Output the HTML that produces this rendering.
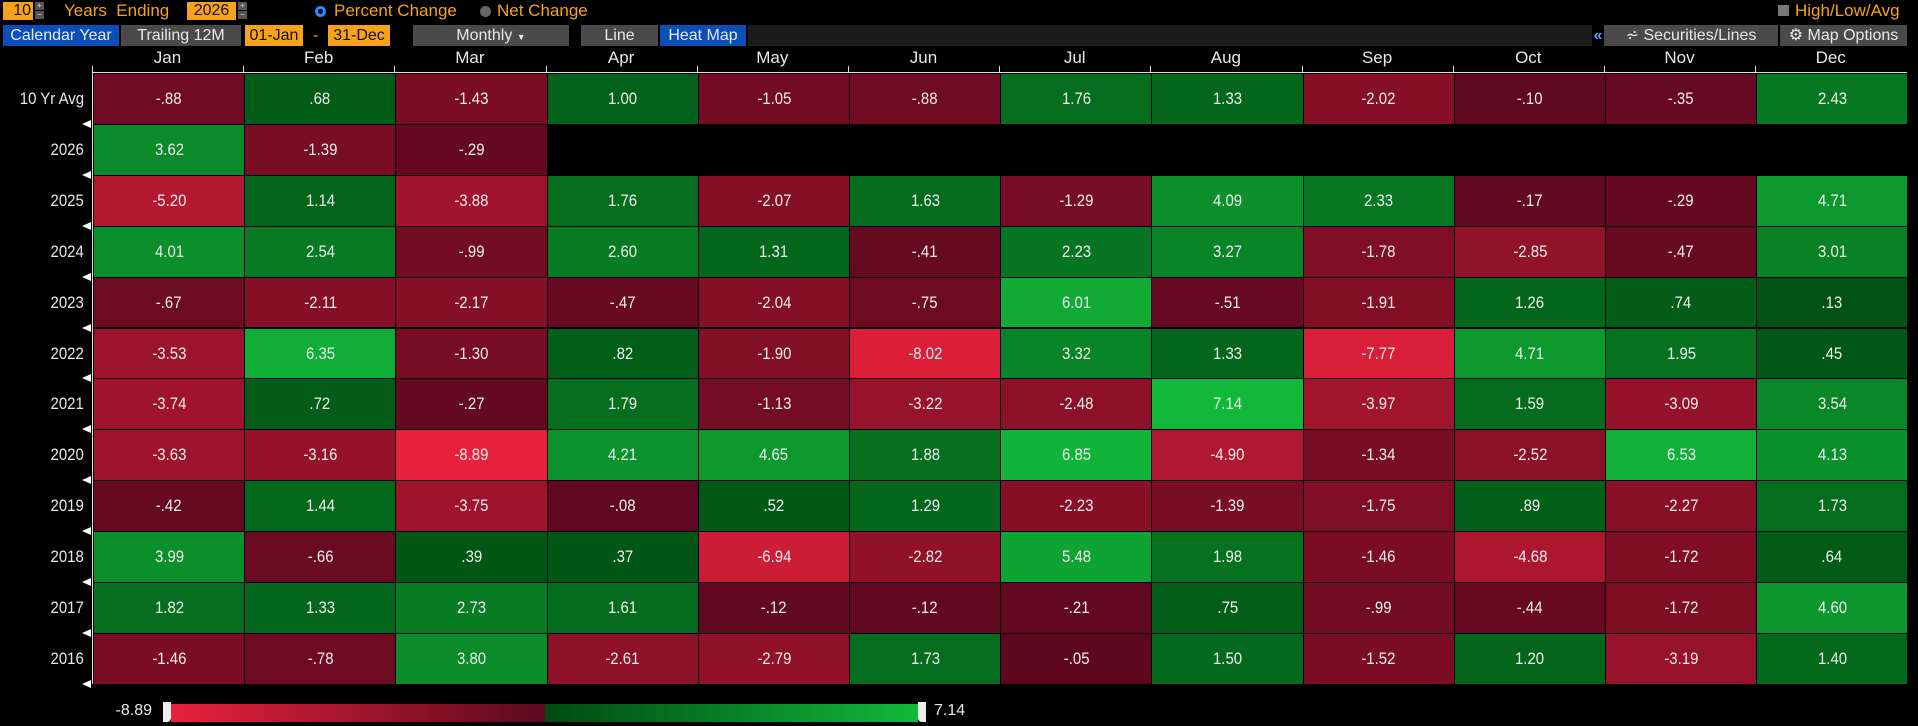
<!DOCTYPE html>
<html><head><meta charset="utf-8">
<style>
*{margin:0;padding:0;box-sizing:border-box}
body{width:1918px;height:726px;background:#000;overflow:hidden;position:relative;font-family:"Liberation Sans Narrow","Liberation Sans",sans-serif;color:#e6e6e6}
.a{position:absolute}
.btn{position:absolute;top:25px;height:21px;font-size:16px;line-height:21px;text-align:center;color:#e8e8e8}
.gray{background:#4a4a4a}.blue{background:#0a4fb8}.org{background:#f7a21b;color:#111}
.cell{position:absolute;font-size:17px;text-align:center;color:#eee;border:1px solid #000}
.cell span,.yr span{display:inline-block;transform:scaleX(0.88)}
.yr span{transform-origin:right center}
.mon{position:absolute;top:48px;font-size:17px;text-align:center;width:151px;color:#e8e8e8}
.yr{position:absolute;left:0;width:84px;text-align:right;font-size:17px;color:#e8e8e8}
.tri{position:absolute;left:82px;width:0;height:0;border-top:4px solid transparent;border-bottom:4px solid transparent;border-right:9px solid #fff}
</style></head><body>
<div class="a org" style="left:3px;top:2px;width:30px;height:18px;font-size:16px;line-height:18px;text-align:right;padding-right:2px">10</div>
<div class="a" style="left:35px;top:2px;width:9px;height:8px;background:#555;font-size:8px;line-height:8px;color:#ddd;text-align:center">+</div>
<div class="a" style="left:35px;top:11px;width:9px;height:8px;background:#555;font-size:8px;line-height:8px;color:#ddd;text-align:center">−</div>
<div class="a" style="left:64px;top:1px;font-size:17px;color:#f7a21b">Years&nbsp; Ending</div>
<div class="a org" style="left:187px;top:2px;width:49px;height:18px;font-size:16px;line-height:18px;text-align:center">2026</div>
<div class="a" style="left:238px;top:2px;width:9px;height:8px;background:#555;font-size:8px;line-height:8px;color:#ddd;text-align:center">+</div>
<div class="a" style="left:238px;top:11px;width:9px;height:8px;background:#555;font-size:8px;line-height:8px;color:#ddd;text-align:center">−</div>
<div class="a" style="left:315px;top:6px;width:11px;height:11px;border-radius:50%;border:3px solid #1e90ff;background:#000"></div>
<div class="a" style="left:334px;top:1px;font-size:17px;color:#f7a21b">Percent Change</div>
<div class="a" style="left:480px;top:6px;width:11px;height:11px;border-radius:50%;background:#666"></div>
<div class="a" style="left:497px;top:1px;font-size:17px;color:#f7a21b">Net Change</div>
<div class="a" style="left:1778px;top:5px;width:11px;height:11px;background:#777"></div>
<div class="a" style="left:1795px;top:1px;font-size:17px;color:#f7a21b">High/Low/Avg</div>
<div class="btn blue" style="left:3px;width:116px">Calendar Year</div>
<div class="btn gray" style="left:121px;width:120px">Trailing 12M</div>
<div class="btn org" style="left:245px;width:58px">01-Jan</div>
<div class="btn" style="left:303px;width:25px;color:#f7a21b">-</div>
<div class="btn org" style="left:328px;width:62px">31-Dec</div>
<div class="btn gray" style="left:413px;width:156px">Monthly <span style="font-size:9px">▼</span></div>
<div class="btn gray" style="left:581px;width:77px">Line</div>
<div class="btn blue" style="left:660px;width:86px">Heat Map</div>
<div class="btn" style="left:748px;width:844px;background:#1c1c1c"></div>
<div class="btn" style="left:1592px;width:12px;color:#5aa0ff;font-weight:bold">«</div>
<div class="btn gray" style="left:1604px;width:174px">⩫ Securities/Lines</div>
<div class="btn gray" style="left:1780px;width:127px">⚙ Map Options</div>
<div id="g"></div>
<div class="a" style="left:100px;top:702px;width:52px;text-align:right;font-size:16px">-8.89</div>
<div class="a" style="left:171px;top:704px;width:374px;height:18px;background:linear-gradient(to right,#e8213c,#5a0a1e)"></div>
<div class="a" style="left:545px;top:704px;width:373px;height:18px;background:linear-gradient(to right,#004a12,#12b83a)"></div>
<div class="a" style="left:163px;top:702px;width:8px;height:20px;background:#eee;border-radius:0 0 4px 0"></div>
<div class="a" style="left:918px;top:702px;width:8px;height:20px;background:#eee;border-radius:0 0 0 4px"></div>
<div class="a" style="left:934px;top:702px;font-size:16px">7.14</div>
<script>
var months=["Jan","Feb","Mar","Apr","May","Jun","Jul","Aug","Sep","Oct","Nov","Dec"];
var rows=[["10 Yr Avg",[-.88,.68,-1.43,1.00,-1.05,-.88,1.76,1.33,-2.02,-.10,-.35,2.43]],
["2026",[3.62,-1.39,-.29]],
["2025",[-5.20,1.14,-3.88,1.76,-2.07,1.63,-1.29,4.09,2.33,-.17,-.29,4.71]],
["2024",[4.01,2.54,-.99,2.60,1.31,-.41,2.23,3.27,-1.78,-2.85,-.47,3.01]],
["2023",[-.67,-2.11,-2.17,-.47,-2.04,-.75,6.01,-.51,-1.91,1.26,.74,.13]],
["2022",[-3.53,6.35,-1.30,.82,-1.90,-8.02,3.32,1.33,-7.77,4.71,1.95,.45]],
["2021",[-3.74,.72,-.27,1.79,-1.13,-3.22,-2.48,7.14,-3.97,1.59,-3.09,3.54]],
["2020",[-3.63,-3.16,-8.89,4.21,4.65,1.88,6.85,-4.90,-1.34,-2.52,6.53,4.13]],
["2019",[-.42,1.44,-3.75,-.08,.52,1.29,-2.23,-1.39,-1.75,.89,-2.27,1.73]],
["2018",[3.99,-.66,.39,.37,-6.94,-2.82,5.48,1.98,-1.46,-4.68,-1.72,.64]],
["2017",[1.82,1.33,2.73,1.61,-.12,-.12,-.21,.75,-.99,-.44,-1.72,4.60]],
["2016",[-1.46,-.78,3.80,-2.61,-2.79,1.73,-.05,1.50,-1.52,1.20,-3.19,1.40]]];
function lerp(a,b,t){return a.map(function(v,i){return Math.round(v+(b[i]-v)*t)})}
function col(v){
 if(v<0){var t=Math.min(1,Math.pow(-v/8.89,0.85));return "rgb("+lerp([92,8,30],[232,33,60],t)+")";}
 var t=Math.min(1,Math.pow(v/7.14,0.85));return "rgb("+lerp([0,78,18],[18,184,58],t)+")";}
function fmt(v){var s=Math.abs(v).toFixed(2);if(s[0]=="0")s=s.slice(1);return (v<0?"-":"")+s;}
var h="",L=92,W=151.2,T=73,H=50.9;
months.forEach(function(m,i){h+='<div class="mon" style="left:'+(L+i*W)+'px">'+m+'</div>';
 h+='<div class="a" style="left:'+(L+i*W)+'px;top:66px;width:1px;height:7px;background:#ddd"></div>';});
h+='<div class="a" style="left:'+L+'px;top:72px;width:1815px;height:1px;background:#ddd"></div>';
h+='<div class="a" style="left:'+L+'px;top:72px;width:1px;height:612px;background:#ddd"></div>';
rows.forEach(function(r,j){var y=T+j*H;
 h+='<div class="yr" style="top:'+y+'px;height:'+H+'px;line-height:'+(H+1)+'px"><span>'+r[0]+'</span></div>';
 h+='<div class="tri" style="top:'+(y+H-4)+'px"></div>';
 r[1].forEach(function(v,i){h+='<div class="cell" style="left:'+(L+1+i*W)+'px;top:'+y+'px;width:'+(W+1)+'px;height:'+(H+1)+'px;line-height:'+(H-1)+'px;background:'+col(v)+'"><span>'+fmt(v)+'</span></div>';});
});
document.getElementById("g").innerHTML=h;
</script>
</body></html>
